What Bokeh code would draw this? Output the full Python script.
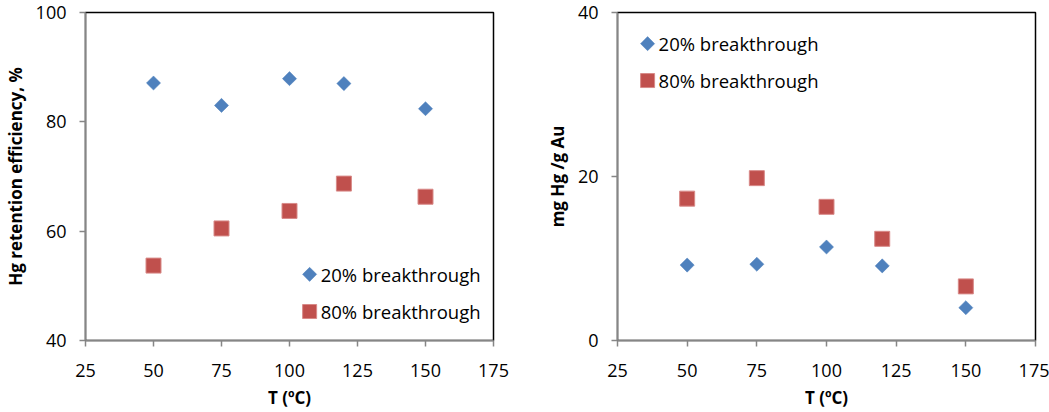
import numpy as np
from bokeh.plotting import figure
from bokeh.layouts import row
from bokeh.models import ColumnDataSource, FixedTicker, Range1d
from bokeh.core.properties import value
from bokeh.embed import file_html
from bokeh.resources import INLINE

# ---- data ----
temps = [50, 75, 100, 120, 150]
eff_20 = [87.1, 83.0, 87.9, 87.0, 82.4]
eff_80 = [53.7, 60.5, 63.7, 68.7, 66.3]
cap_20 = [9.2, 9.3, 11.4, 9.1, 4.0]
cap_80 = [17.3, 19.8, 16.3, 12.4, 6.6]
x_ticks = [25, 50, 75, 100, 125, 150, 175]
eff_ticks = [40, 60, 80, 100]
cap_ticks = [0, 20, 40]
series_labels = ["20% breakthrough", "80% breakthrough"]

BLUE = "#4F81BD"
RED = "#C0504D"
AXIS_GRAY = "#868686"
FONT = "Open Sans"


def make_fig(width, mb_left, mb_right, y_lo, y_hi, y_ticks, ylabel):
    p = figure(width=width, height=411,
               x_range=Range1d(25, 175), y_range=Range1d(y_lo, y_hi),
               output_backend="svg", toolbar_location=None,
               min_border_left=mb_left, min_border_right=mb_right,
               min_border_top=12, min_border_bottom=71)
    p.grid.visible = False
    p.outline_line_color = "black"
    p.outline_line_width = 1.5
    p.background_fill_color = "white"
    p.border_fill_color = "white"
    p.xaxis.ticker = FixedTicker(ticks=x_ticks)
    p.yaxis.ticker = FixedTicker(ticks=y_ticks)
    p.xaxis.axis_label = "T (ºC)"
    p.yaxis.axis_label = ylabel
    for ax in (p.xaxis[0], p.yaxis[0]):
        ax.axis_line_color = AXIS_GRAY
        ax.axis_line_width = 1.5
        ax.major_tick_line_color = AXIS_GRAY
        ax.major_tick_line_width = 1.5
        ax.major_tick_out = 6
        ax.major_tick_in = 0
        ax.minor_tick_line_color = None
        ax.major_label_text_font = FONT
        ax.major_label_text_font_size = "18px"
        ax.major_label_text_color = "black"
        ax.axis_label_text_font = FONT
        ax.axis_label_text_font_size = "17px"
        ax.axis_label_text_font_style = "bold"
        ax.axis_label_text_color = "black"
    p.yaxis.major_label_standoff = 13
    p.yaxis.axis_label_standoff = 6
    p.xaxis.major_label_standoff = 17
    p.xaxis.axis_label_standoff = 6
    return p


def add_series(p, y20, y80, leg_x, leg_y):
    p.scatter(x=temps, y=y20, marker="square", size=10, angle=np.pi / 4,
              fill_color=BLUE, line_color=BLUE, line_width=0.5)
    p.scatter(x=temps, y=y80, marker="square", size=15,
              fill_color=RED, line_color="#D88A88", line_width=1)
    # legend (drawn by hand so the diamond keeps its rotation)
    p.scatter(x=[leg_x], y=[leg_y[0]], marker="square", size=10, angle=np.pi / 4,
              fill_color=BLUE, line_color=BLUE, line_width=0.5)
    p.scatter(x=[leg_x], y=[leg_y[1]], marker="square", size=14,
              fill_color=RED, line_color="#D88A88", line_width=1)
    src = ColumnDataSource(dict(x=[leg_x, leg_x], y=leg_y, t=series_labels))
    p.text(x="x", y="y", text="t", source=src, x_offset=11,
           text_font=value(FONT), text_font_size="18.5px",
           text_baseline="middle", text_align="left", text_color="black")


p1 = make_fig(528, 85, 35, 40, 100, eff_ticks, "Hg retention efficiency, %")
add_series(p1, eff_20, eff_80, 107.4, [52.1, 45.3])

p2 = make_fig(521, 89, 14, 0, 40, cap_ticks, "mg Hg /g Au")
add_series(p2, cap_20, cap_80, 35.8, [36.2, 31.7])

layout = row(p1, p2, spacing=0)
open("out.html", "w").write(file_html(layout, INLINE))
